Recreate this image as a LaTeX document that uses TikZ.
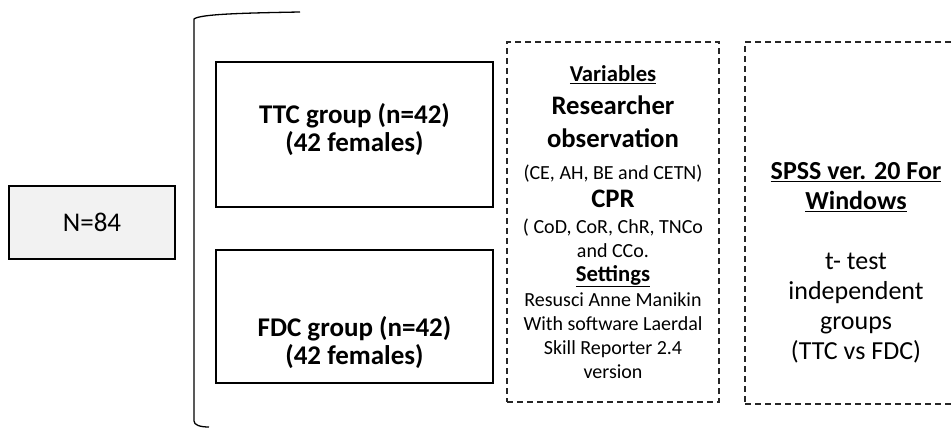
\documentclass[tikz,border=0pt]{standalone}
\usepackage{fontspec}
\setmainfont{Carlito}
\newcommand\lgbold{\fontsize{26.7}{24}\selectfont\bfseries}
\newcommand\ulhead[1]{{\fontsize{22.7}{24}\selectfont\bfseries\underline{#1}}}
\begin{document}
\begin{tikzpicture}[x=1pt,y=-1pt,
  solidbox/.style={draw=black, line width=1.3pt, inner sep=2pt, align=center},
  totalbox/.style={solidbox, fill=black!5, font=\fontsize{27}{30}\selectfont},
  groupbox/.style={solidbox, minimum width=277pt},
  grouptext/.style={align=center, font=\fontsize{27}{28}\selectfont\bfseries},
  dashbox/.style={draw=black!85, line width=1.3pt, dash pattern=on 6pt off 4pt, inner sep=2pt, align=center},
  bracketline/.style={draw=black, line width=1.3pt}]
\clip (0,0) rectangle (952,430);

% sample size
\node[totalbox, minimum width=166pt, minimum height=73pt] (total) at (92,222.5) {N=84};

% the two study groups
\node[groupbox, minimum height=145pt] (ttc) at (354.5,134.5) {};
\node[grouptext] (ttclabel) at (354.5,130) {TTC group (n=42)\\(42 females)};
\node[groupbox, minimum height=133pt] (fdc) at (354.5,316.5) {};
\node[grouptext] (fdclabel) at (354.5,343) {FDC group (n=42)\\(42 females)};

% bracket gathering both groups
\coordinate (bt) at (300,12);
\coordinate (bl) at (194,19);
\coordinate (bb) at (194,421);
\coordinate (be) at (209,427);
\path[bracketline] (bt) .. controls (245,13) and (200,14) .. (bl) -- (bb)
  .. controls (194,425) and (200,427) .. (be);

% variables and settings
\node[dashbox, minimum width=212pt, minimum height=360pt,
      font=\fontsize{20}{24}\selectfont] (vars) at (613,222)
  {\ulhead{Variables}\\[9pt]
   {\lgbold Researcher}\\[9pt]
   {\lgbold observation}\\[8pt]
   (CE, AH, BE and CETN)\\[4pt]
   {\lgbold CPR}\\[2pt]
   ( CoD, CoR, ChR, TNCo\\
   and CCo.\\
   \ulhead{Settings}\\[1pt]
   Resusci Anne Manikin\\
   With software Laerdal\\
   Skill Reporter 2.4\\
   version};

% statistical analysis
\node[dashbox, minimum width=222pt, minimum height=362pt] (stats) at (856,223) {};
\node[align=center, font=\fontsize{26}{30}\selectfont] (statstext) at (856,263)
  {\textbf{\underline{SPSS ver. 20 For}}\\
   \textbf{\underline{Windows}}\\[30pt]
   t- test\\
   independent\\
   groups\\
   (TTC vs FDC)};
\end{tikzpicture}
\end{document}
